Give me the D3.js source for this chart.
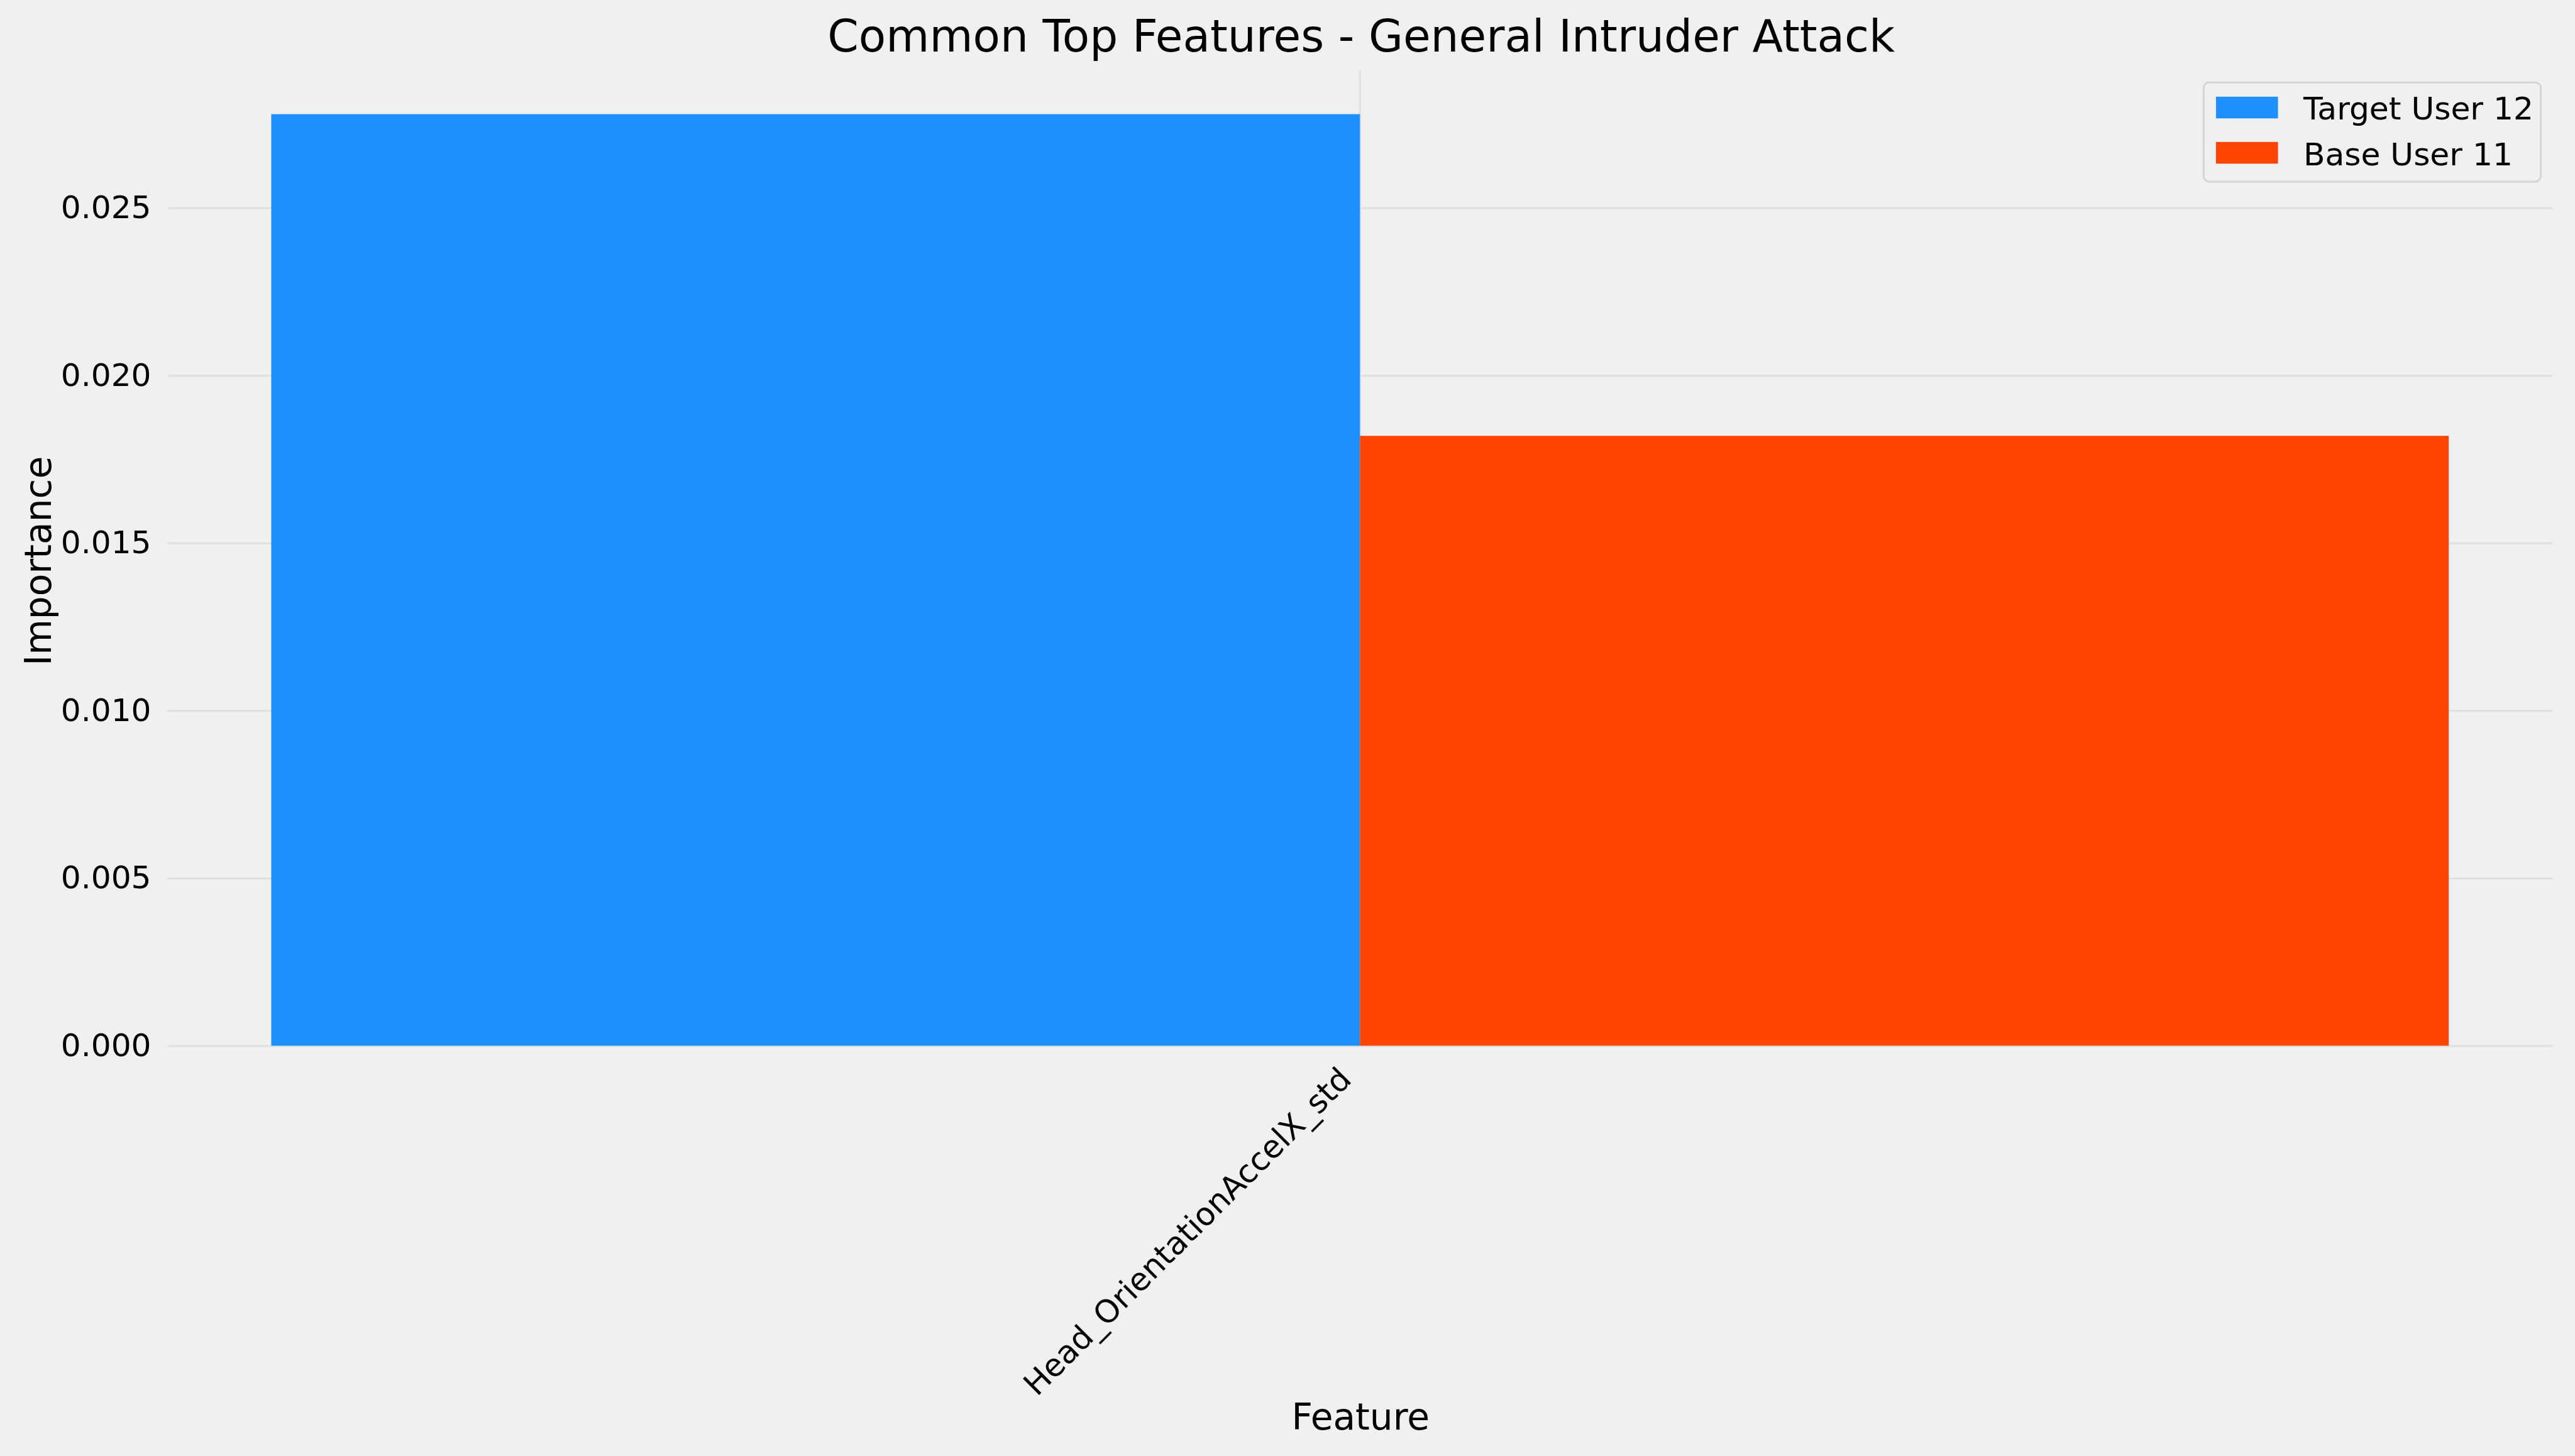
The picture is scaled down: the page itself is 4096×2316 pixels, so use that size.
<!DOCTYPE html>
<html><head><meta charset="utf-8">
<script src="https://cdn.jsdelivr.net/npm/d3@7"></script>
<style>html,body{margin:0;padding:0;background:#f0f0f0;overflow:hidden}</style>
</head><body>
<script>
const categories = ["Head_OrientationAccelX_std"];
const seriesNames = ["Target User 12", "Base User 11"];
const targetValues = [0.0278];
const baseValues = [0.0182];
const yTickValues = [0, 0.005, 0.010, 0.015, 0.020, 0.025];
const seriesColors = ["#1E90FF", "#FF4500"];
const titleText = "Common Top Features - General Intruder Attack";
const xLabelText = "Feature";
const yLabelText = "Importance";

(function () {
const k = 0.986;
const W = 4096, H = 2316;
const FONT = "'DejaVu Sans', sans-serif";
const svg = d3.select("body").append("svg").attr("width", W).attr("height", H)
  .style("font-family", FONT);
svg.append("rect").attr("width", W).attr("height", H).attr("fill", "#f0f0f0");

const pLeft = 270 * k, pRight = 4118 * k, pTop = 109 * k, pBottom = 1687 * k;
const x = d3.scaleBand().domain(categories).range([pLeft, pRight]).paddingInner(0).paddingOuter(0.0477);
const xs = d3.scaleBand().domain(seriesNames).range([0, x.bandwidth()]);
const allVals = targetValues.concat(baseValues);
const y = d3.scaleLinear().domain([0, d3.max(allVals) * 1.05]).range([pBottom, pTop]);

const gridColor = "#e1e1e1";
// y grid + labels
const gy = svg.append("g").attr("transform", `translate(${pLeft},0)`)
  .call(d3.axisLeft(y).tickValues(yTickValues).tickFormat(d3.format(".3f"))
    .tickSize(-(pRight - pLeft)).tickPadding(26 * k));
gy.select(".domain").remove();
gy.selectAll(".tick line").attr("stroke", gridColor).attr("stroke-width", 3.5 * k);
gy.selectAll(".tick text").attr("font-size", 51 * k).attr("fill", "#000").attr("font-family", FONT);

// x grid + labels
const gx = svg.append("g").attr("transform", `translate(0,${pBottom})`)
  .call(d3.axisBottom(x).tickSize(-(pBottom - 114 * k)).tickPadding(0));
gx.select(".domain").remove();
gx.selectAll(".tick line").attr("stroke", gridColor).attr("stroke-width", 3.5 * k);
gx.selectAll(".tick text")
  .attr("font-size", 51 * k).attr("fill", "#000").attr("font-family", FONT)
  .attr("text-anchor", "end").attr("x", 0).attr("y", 0).attr("dy", 0)
  .attr("transform", `translate(${-11 * k},${57 * k}) rotate(-45)`);

// bars
const seriesData = [targetValues, baseValues];
categories.forEach((c, i) => {
  seriesNames.forEach((s, j) => {
    const v = seriesData[j][i];
    svg.append("rect")
      .attr("x", x(c) + xs(s)).attr("width", xs.bandwidth())
      .attr("y", y(v)).attr("height", y(0) - y(v))
      .attr("fill", seriesColors[j]);
  });
});

// title & labels
svg.append("text").attr("x", 2196 * k).attr("y", 83 * k).attr("text-anchor", "middle")
  .attr("font-size", 72 * k).attr("fill", "#000").text(titleText);
svg.append("text").attr("transform", `translate(${82 * k},${905 * k}) rotate(-90)`)
  .attr("text-anchor", "middle").attr("font-size", 59 * k).attr("fill", "#000").text(yLabelText);
svg.append("text").attr("x", 2195 * k).attr("y", 2306 * k).attr("text-anchor", "middle")
  .attr("font-size", 59 * k).attr("fill", "#000").text(xLabelText);

// legend
const lg = svg.append("g");
lg.append("rect").attr("x", 3555 * k).attr("y", 133 * k).attr("width", 544 * k).attr("height", 160 * k)
  .attr("rx", 9 * k).attr("fill", "#f0f0f0").attr("stroke", "#d4d4d4").attr("stroke-width", 3 * k);
seriesNames.forEach((s, j) => {
  lg.append("rect").attr("x", 3575 * k).attr("y", (156 + 73 * j) * k)
    .attr("width", 100 * k).attr("height", 35 * k).attr("fill", seriesColors[j]);
  lg.append("text").attr("x", 3716 * k).attr("y", (193 + 74 * j) * k)
    .attr("font-size", 51 * k).attr("fill", "#000").text(s);
});
})();
</script>
</body></html>
